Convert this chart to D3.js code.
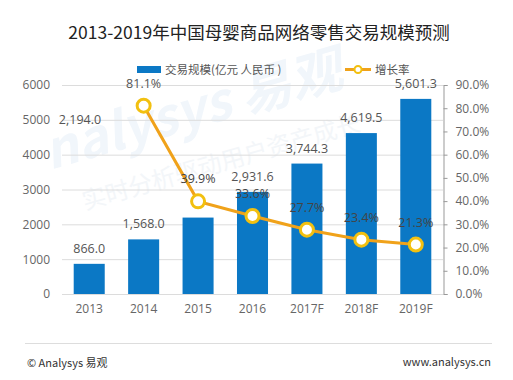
<!DOCTYPE html>
<html>
<head>
<meta charset="utf-8">
<script src="https://cdn.jsdelivr.net/npm/d3@7"></script>
<style>
  body { margin: 0; background: #fff; }
  svg { display: block; font-family: "Noto Sans CJK SC", "Open Sans", sans-serif; }
</style>
</head>
<body>
<div id="chart"></div>
<script>
// chart data
const years = ["2013", "2014", "2015", "2016", "2017F", "2018F", "2019F"];
const scale = [866.0, 1568.0, 2194.0, 2931.6, 3744.3, 4619.5, 5601.3];
const growth = [null, 81.1, 39.9, 33.6, 27.7, 23.4, 21.3];
const leftTicks = [0, 1000, 2000, 3000, 4000, 5000, 6000];
const rightTicks = [0, 10, 20, 30, 40, 50, 60, 70, 80, 90];

const width = 513, height = 380;
const margin = {top: 85, right: 70, bottom: 86, left: 62};

const svg = d3.select("#chart").append("svg")
    .attr("width", width)
    .attr("height", height);

// faint watermark
svg.append("text")
    .attr("transform", "translate(50,170) rotate(-16)")
    .attr("font-size", 52)
    .attr("font-weight", 700)
    .attr("font-style", "italic")
    .attr("fill", "#f1f6fb")
    .text("nalysys 易观");
svg.append("text")
    .attr("transform", "translate(85,210) rotate(-16)")
    .attr("font-size", 24)
    .attr("fill", "#f3f6f9")
    .text("实时分析驱动用户资产成长");

const x = d3.scaleBand()
    .domain(years)
    .range([margin.left, width - margin.right])
    .paddingInner(0.43)
    .paddingOuter(0.215);

const y = d3.scaleLinear()
    .domain([0, 6000])
    .range([height - margin.bottom, margin.top]);

const y2 = d3.scaleLinear()
    .domain([0, 90])
    .range([height - margin.bottom, margin.top]);

// title
svg.append("text")
    .attr("x", 259)
    .attr("y", 39)
    .attr("text-anchor", "middle")
    .attr("font-size", 17.5)
    .attr("font-weight", 400)
    .attr("fill", "#222")
    .text("2013-2019年中国母婴商品网络零售交易规模预测");

// gridlines
svg.append("g")
    .selectAll("line")
    .data(leftTicks)
    .enter().append("line")
    .attr("x1", margin.left)
    .attr("x2", width - margin.right)
    .attr("y1", d => y(d) + 0.5)
    .attr("y2", d => y(d) + 0.5)
    .attr("stroke", "#dcdcdc");

// left axis
const yAxis = d3.axisLeft(y).tickValues(leftTicks).tickSize(0).tickPadding(12)
    .tickFormat(d3.format("d"));
svg.append("g")
    .attr("transform", `translate(${margin.left},0)`)
    .call(yAxis)
    .call(g => g.select(".domain").remove())
    .call(g => g.selectAll("text").attr("fill", "#666").attr("font-size", 12).attr("font-family", "Open Sans, sans-serif"));

// right axis
const yAxis2 = d3.axisRight(y2).tickValues(rightTicks).tickSize(4).tickPadding(8)
    .tickFormat(d => d.toFixed(1) + "%");
svg.append("g")
    .attr("transform", `translate(${width - margin.right + 0.5},0)`)
    .call(yAxis2)
    .call(g => g.select(".domain").attr("stroke", "#999"))
    .call(g => g.selectAll(".tick line").attr("stroke", "#999"))
    .call(g => g.selectAll("text").attr("fill", "#666").attr("font-size", 12).attr("font-family", "Open Sans, sans-serif"));

// x axis labels
const xAxis = d3.axisBottom(x).tickSize(0).tickPadding(10);
svg.append("g")
    .attr("transform", `translate(0,${height - margin.bottom})`)
    .call(xAxis)
    .call(g => g.select(".domain").remove())
    .call(g => g.selectAll("text").attr("fill", "#666").attr("font-size", 12).attr("font-family", "Open Sans, sans-serif"));

// bars
svg.append("g")
    .selectAll("rect")
    .data(scale)
    .enter().append("rect")
    .attr("x", (d, i) => x(years[i]))
    .attr("y", d => y(d))
    .attr("width", x.bandwidth())
    .attr("height", d => y(0) - y(d))
    .attr("fill", "#0b78c5");

// bar labels (the 2015 label sits off to the left in the original)
const fmt = d3.format(",.1f");
svg.append("g")
    .selectAll("text")
    .data(scale)
    .enter().append("text")
    .attr("x", (d, i) => i === 2 ? 80 : x(years[i]) + x.bandwidth() / 2)
    .attr("y", (d, i) => i === 2 ? 124 : y(d) - 11)
    .attr("text-anchor", "middle")
    .attr("font-size", 12.5)
    .attr("font-family", "Open Sans, sans-serif")
    .attr("fill", "#555")
    .text(d => fmt(d));

// growth line
const pts = growth.map((g, i) => ({g, i})).filter(d => d.g !== null);
const line = d3.line()
    .x(d => x(years[d.i]) + x.bandwidth() / 2)
    .y(d => y2(d.g));

svg.append("path")
    .datum(pts)
    .attr("d", line)
    .attr("fill", "none")
    .attr("stroke", "#f0a21a")
    .attr("stroke-width", 3);

svg.append("g")
    .selectAll("circle")
    .data(pts)
    .enter().append("circle")
    .attr("cx", d => x(years[d.i]) + x.bandwidth() / 2)
    .attr("cy", d => y2(d.g))
    .attr("r", 6.5)
    .attr("fill", "#fff")
    .attr("stroke", "#f2c010")
    .attr("stroke-width", 3);

svg.append("g")
    .selectAll("text")
    .data(pts)
    .enter().append("text")
    .attr("x", d => x(years[d.i]) + x.bandwidth() / 2)
    .attr("y", d => y2(d.g) - 18)
    .attr("text-anchor", "middle")
    .attr("font-size", 12.5)
    .attr("font-family", "Open Sans, sans-serif")
    .attr("fill", (d, i) => i === 0 ? "#555" : "#444")
    .text(d => d.g.toFixed(1) + "%");

// legend
const legend = svg.append("g");
legend.append("rect")
    .attr("x", 137).attr("y", 66)
    .attr("width", 24).attr("height", 7)
    .attr("fill", "#0b78c5");
legend.append("text")
    .attr("x", 165).attr("y", 74)
    .attr("font-size", 11.5)
    .attr("fill", "#555")
    .text("交易规模(亿元 人民币 )");
legend.append("line")
    .attr("x1", 345).attr("x2", 371)
    .attr("y1", 69.5).attr("y2", 69.5)
    .attr("stroke", "#f0a21a").attr("stroke-width", 3);
legend.append("circle")
    .attr("cx", 358).attr("cy", 69.5).attr("r", 3.5)
    .attr("fill", "#fff").attr("stroke", "#f2c010").attr("stroke-width", 2);
legend.append("text")
    .attr("x", 375).attr("y", 74)
    .attr("font-size", 11.5)
    .attr("fill", "#555")
    .text("增长率");

// footer
svg.append("line")
    .attr("x1", 25).attr("x2", 492)
    .attr("y1", 343.5).attr("y2", 343.5)
    .attr("stroke", "#ddd");
svg.append("text")
    .attr("x", 27).attr("y", 367)
    .attr("font-size", 11)
    .attr("fill", "#333")
    .text("© Analysys 易观");
svg.append("text")
    .attr("x", 491).attr("y", 366)
    .attr("text-anchor", "end")
    .attr("font-size", 11)
    .attr("fill", "#333")
    .text("www.analysys.cn");
</script>
</body>
</html>
